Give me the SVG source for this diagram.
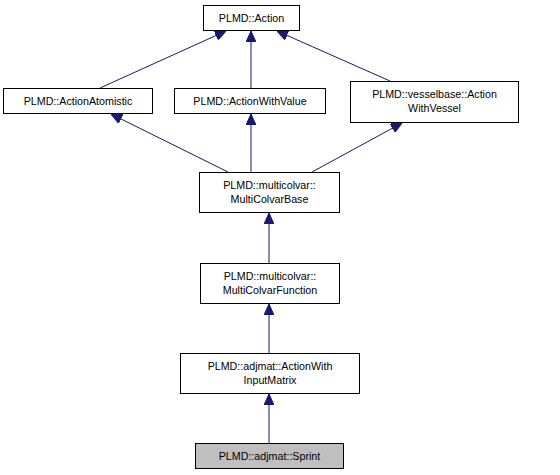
<svg xmlns="http://www.w3.org/2000/svg" width="560" height="475" viewBox="0 0 560 475">
<style>
.n rect{fill:#ffffff;stroke:#000000;stroke-width:1}
.n.h rect{fill:#bfbfbf;stroke:#000000}
.n text{font-family:"Liberation Sans",Arial,sans-serif;font-size:10.7px;fill:#000000;text-anchor:middle}
.e line{stroke:#191970;stroke-width:1;fill:none;marker-end:url(#ah)}
</style>
<defs>
<marker id="ah" markerUnits="userSpaceOnUse" markerWidth="11" markerHeight="10" refX="11" refY="5" orient="auto">
<path d="M0,0 L11,5 L0,10 z" fill="#191970" stroke="#191970" stroke-width="1"/>
</marker>
</defs>
<rect width="560" height="475" fill="#ffffff"/>
<g class="e">
<line x1="100" y1="88" x2="226" y2="31"/>
<line x1="251" y1="88" x2="251" y2="31"/>
<line x1="390" y1="81" x2="277" y2="31"/>
<line x1="228" y1="172" x2="111" y2="114"/>
<line x1="251" y1="172" x2="251" y2="114"/>
<line x1="312" y1="172" x2="402" y2="123"/>
<line x1="269" y1="263" x2="269" y2="213"/>
<line x1="269" y1="353" x2="269" y2="304"/>
<line x1="269" y1="443" x2="269" y2="394"/>
</g>
<g id="node_action" class="n"><rect x="203.5" y="5.5" width="96" height="25"/><text x="251.5" y="22">PLMD::Action</text></g>
<g id="node_atomistic" class="n"><rect x="3.5" y="88.5" width="149" height="25"/><text x="78" y="105">PLMD::ActionAtomistic</text></g>
<g id="node_withvalue" class="n"><rect x="174.5" y="88.5" width="151" height="25"/><text x="250" y="105">PLMD::ActionWithValue</text></g>
<g id="node_vessel" class="n"><rect x="350.5" y="81.5" width="168" height="41"/><text x="434.5" y="98">PLMD::vesselbase::Action</text><text x="434.5" y="112">WithVessel</text></g>
<g id="node_mcbase" class="n"><rect x="199.5" y="172.5" width="140" height="40"/><text x="269.5" y="189">PLMD::multicolvar::</text><text x="269.5" y="203">MultiColvarBase</text></g>
<g id="node_mcfunc" class="n"><rect x="200.5" y="263.5" width="139" height="40"/><text x="270" y="280">PLMD::multicolvar::</text><text x="270" y="294">MultiColvarFunction</text></g>
<g id="node_inputmatrix" class="n"><rect x="180.5" y="353.5" width="179" height="40"/><text x="270" y="370">PLMD::adjmat::ActionWith</text><text x="270" y="384">InputMatrix</text></g>
<g id="node_sprint" class="n h"><rect x="195.5" y="443.5" width="148" height="25"/><text x="269.5" y="460">PLMD::adjmat::Sprint</text></g>
</svg>
